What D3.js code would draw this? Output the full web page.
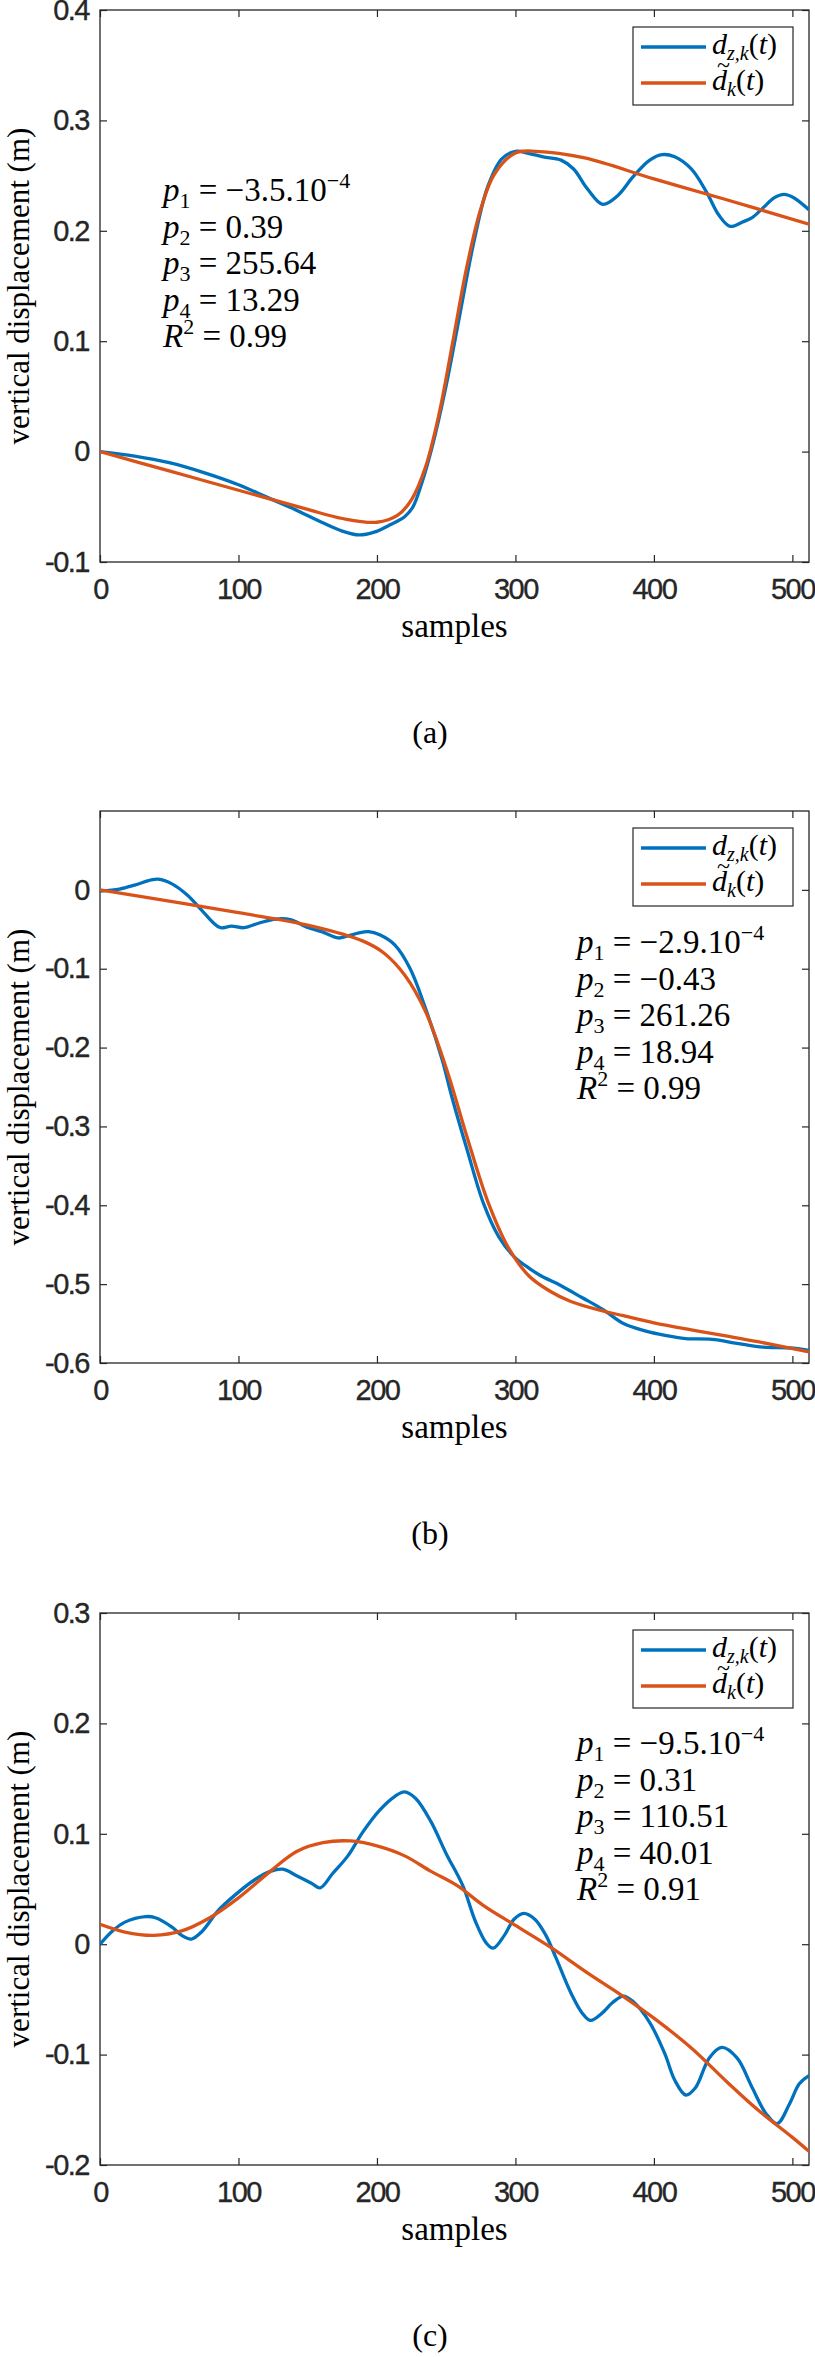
<!DOCTYPE html>
<html>
<head>
<meta charset="utf-8">
<script src="https://cdn.jsdelivr.net/npm/d3@7"></script>
<style>
	html, body { margin: 0; padding: 0; background: #fff; }
	svg { display: block; }
	.tick text { font-family: "Liberation Sans", Arial, sans-serif; font-size: 29px; fill: #262626; stroke: #262626; stroke-width: 0.35; letter-spacing: -1.5px; }
	.math { font-family: "Liberation Serif", "Times New Roman", serif; fill: #000; }
</style>
</head>
<body>
<div id="chart"></div>
<script>
// x ticks shared by all panels
const xTicks = [0, 100, 200, 300, 400, 500];

// panel (a)
const yTicksA = [-0.1, 0, 0.1, 0.2, 0.3, 0.4];
const dzSampA = [0, 25, 50, 75, 100, 120, 140, 160, 175, 187, 198, 210, 220, 226, 232, 240, 250, 260, 270, 280, 290, 300, 310, 320, 333, 342, 352, 363, 374, 385, 397, 406, 415, 427, 438, 447, 455, 464, 471, 479, 487, 494, 501, 512];
const dzA = [0, -0.004, -0.010, -0.019, -0.030, -0.041, -0.052, -0.064, -0.072, -0.0755, -0.073, -0.066, -0.059, -0.050, -0.030, 0.005, 0.060, 0.125, 0.190, 0.240, 0.265, 0.272, 0.270, 0.267, 0.264, 0.256, 0.238, 0.224, 0.232, 0.249, 0.264, 0.269, 0.267, 0.256, 0.235, 0.214, 0.204, 0.208, 0.212, 0.221, 0.230, 0.233, 0.230, 0.219];
const fitSampA = [0, 50, 100, 150, 175, 200, 215, 225, 235, 245, 255, 265, 275, 285, 300, 315, 350, 400, 450, 512];
const fitA = [0, -0.0175, -0.035, -0.0524, -0.0606, -0.064, -0.0576, -0.0434, -0.0142, 0.035, 0.101, 0.168, 0.220, 0.2517, 0.2705, 0.272, 0.266, 0.247, 0.229, 0.206];
const paramsA = ["−3.5.10", "0.39", "255.64", "13.29"];
const r2A = "0.99";

// panel (b)
const yTicksB = [-0.6, -0.5, -0.4, -0.3, -0.2, -0.1, 0];
const dzSampB = [0, 14, 25, 37, 42, 52, 63, 74, 82, 87, 95, 104, 115, 127, 138, 149, 160, 172, 179, 187, 194, 202, 213, 224, 235, 247, 254, 265, 277, 288, 299, 310, 318, 333, 348, 363, 378, 393, 408, 423, 442, 460, 479, 498, 512];
const dzB = [-0.0015, 0.001, 0.006, 0.0126, 0.0136, 0.0076, -0.0066, -0.027, -0.042, -0.048, -0.046, -0.048, -0.042, -0.037, -0.038, -0.047, -0.053, -0.061, -0.0585, -0.0545, -0.053, -0.057, -0.070, -0.100, -0.150, -0.215, -0.262, -0.329, -0.398, -0.440, -0.465, -0.480, -0.489, -0.502, -0.517, -0.532, -0.550, -0.559, -0.565, -0.569, -0.570, -0.575, -0.580, -0.581, -0.584];
const fitSampB = [0, 100, 153, 190, 205, 220, 235, 250, 265, 280, 295, 310, 325, 340, 363, 378, 400, 427, 453, 475, 512];
const fitB = [0, -0.029, -0.046, -0.065, -0.080, -0.108, -0.154, -0.226, -0.313, -0.395, -0.454, -0.490, -0.509, -0.522, -0.534, -0.540, -0.549, -0.558, -0.566, -0.573, -0.586];
const paramsB = ["−2.9.10", "−0.43", "261.26", "18.94"];
const r2B = "0.99";

// panel (c)
const yTicksC = [-0.2, -0.1, 0, 0.1, 0.2, 0.3];
const dzSampC = [0, 9, 18, 33, 40, 52, 59, 66, 74, 85, 97, 112, 123, 132, 142, 153, 159, 168, 179, 190, 202, 213, 220, 228, 239, 250, 262, 271, 279, 284, 292, 299, 306, 314, 322, 329, 340, 348, 354, 363, 370, 378, 385, 397, 408, 415, 423, 430, 440, 449, 460, 471, 481, 489, 498, 505, 512];
const dzC = [0, 0.012, 0.020, 0.025, 0.024, 0.0155, 0.008, 0.0047, 0.012, 0.030, 0.044, 0.0586, 0.066, 0.068, 0.062, 0.055, 0.051, 0.064, 0.080, 0.102, 0.1215, 0.134, 0.138, 0.132, 0.111, 0.082, 0.053, 0.021, 0.001, -0.0036, 0.008, 0.0226, 0.028, 0.0226, 0.008, -0.0115, -0.044, -0.062, -0.069, -0.062, -0.053, -0.047, -0.052, -0.071, -0.0996, -0.123, -0.1366, -0.130, -0.103, -0.0935, -0.103, -0.130, -0.1535, -0.1625, -0.1445, -0.1265, -0.119];
const fitSampC = [0, 18, 39, 59, 78, 100, 123, 142, 161, 181, 200, 220, 239, 258, 277, 300, 325, 352, 378, 400, 427, 453, 475, 500, 512];
const fitC = [0.018, 0.011, 0.008, 0.012, 0.023, 0.042, 0.066, 0.084, 0.092, 0.0935, 0.089, 0.080, 0.066, 0.053, 0.035, 0.017, -0.0025, -0.026, -0.0475, -0.067, -0.094, -0.125, -0.150, -0.175, -0.1876];
const paramsC = ["−9.5.10", "0.31", "110.51", "40.01"];
const r2C = "0.91";

const panelLabels = ["(a)", "(b)", "(c)"];

const BLUE = "#0072BD";
const ORANGE = "#D95319";
const AXIS = "#262626";

const W = 815, H = 2357;
const LEFT = 100, RIGHT = 809, PH = 552;

const zip = (xs, ys) => xs.map((x, i) => [x, ys[i]]);

const panels = [
	{ top: 10, yDomain: [-0.1, 0.4], yTicks: yTicksA, dz: zip(dzSampA, dzA), fit: zip(fitSampA, fitA), params: paramsA, r2: r2A, annX: 163, annY: 191 },
	{ top: 811, yDomain: [-0.6, 0.1], yTicks: yTicksB, dz: zip(dzSampB, dzB), fit: zip(fitSampB, fitB), params: paramsB, r2: r2B, annX: 577, annY: 142 },
	{ top: 1613, yDomain: [-0.2, 0.3], yTicks: yTicksC, dz: zip(dzSampC, dzC), fit: zip(fitSampC, fitC), params: paramsC, r2: r2C, annX: 577, annY: 141 },
];

const svg = d3.select("#chart")
	.append("svg")
	.attr("width", W)
	.attr("height", H)
	.attr("viewBox", `0 0 ${W} ${H}`);

svg.append("rect").attr("width", W).attr("height", H).attr("fill", "#fff");

// write a line of math-ish text with sub/superscripts
function mathText(g, x, y, parts, size) {
	const t = g.append("text")
		.attr("class", "math")
		.attr("x", x)
		.attr("y", y)
		.attr("font-size", size);
	let shift = 0;
	parts.forEach((p) => {
		const s = p.shift || 0;
		t.append("tspan")
			.attr("dy", s - shift)
			.attr("font-style", p.it ? "italic" : "normal")
			.attr("font-size", p.small ? Math.round(size * 0.68) : size)
			.text(p.t);
		shift = s;
	});
	return t;
}

panels.forEach((cfg, i) => {
	const bottom = cfg.top + PH;
	const x = d3.scaleLinear().domain([0, 512]).range([LEFT, RIGHT]);
	const y = d3.scaleLinear().domain(cfg.yDomain).range([bottom, cfg.top]);

	const g = svg.append("g").attr("class", "panel");
	const fmt = (d) => (Math.abs(d) < 1e-9 ? "0" : d.toFixed(1));

	// clip for curves
	g.append("clipPath")
		.attr("id", `clip${i}`)
		.append("rect")
		.attr("x", LEFT)
		.attr("y", cfg.top)
		.attr("width", RIGHT - LEFT)
		.attr("height", PH);

	// axes (ticks inward, mirrored on top/right)
	const axes = g.append("g").attr("class", "axis-group");
	axes.append("g")
		.attr("transform", `translate(0, ${bottom})`)
		.call(d3.axisBottom(x).tickValues(xTicks).tickSize(-7).tickPadding(16).tickFormat(d3.format("d")));
	axes.append("g")
		.attr("transform", `translate(${LEFT}, 0)`)
		.call(d3.axisLeft(y).tickValues(cfg.yTicks).tickSize(-7).tickPadding(11).tickFormat(fmt));
	axes.append("g")
		.attr("transform", `translate(0, ${cfg.top})`)
		.call(d3.axisTop(x).tickValues(xTicks).tickSize(-7).tickFormat(""));
	axes.append("g")
		.attr("transform", `translate(${RIGHT}, 0)`)
		.call(d3.axisRight(y).tickValues(cfg.yTicks).tickSize(-7).tickFormat(""));
	axes.selectAll(".domain").remove();
	axes.selectAll(".tick line").attr("stroke", AXIS).attr("stroke-width", 1.2);

	g.append("rect")
		.attr("x", LEFT)
		.attr("y", cfg.top)
		.attr("width", RIGHT - LEFT)
		.attr("height", PH)
		.attr("fill", "none")
		.attr("stroke", AXIS)
		.attr("stroke-width", 1.3);

	// curves
	const line = d3.line()
		.x(([s]) => x(s))
		.y(([_, v]) => y(v))
		.curve(d3.curveCatmullRom.alpha(0.5));

	const curves = g.append("g").attr("clip-path", `url(#clip${i})`);
	curves.append("path")
		.datum(cfg.dz)
		.attr("d", line)
		.attr("fill", "none")
		.attr("stroke", BLUE)
		.attr("stroke-width", 3.3);
	curves.append("path")
		.datum(cfg.fit)
		.attr("d", line)
		.attr("fill", "none")
		.attr("stroke", ORANGE)
		.attr("stroke-width", 3.3);

	// legend
	const lg = g.append("g").attr("transform", `translate(633, ${cfg.top + 17})`);
	lg.append("rect")
		.attr("width", 160)
		.attr("height", 78)
		.attr("fill", "#fff")
		.attr("stroke", AXIS)
		.attr("stroke-width", 1.2);
	[[BLUE, 20], [ORANGE, 56]].forEach(([c, ly]) => {
		lg.append("line")
			.attr("x1", 8).attr("x2", 73)
			.attr("y1", ly).attr("y2", ly)
			.attr("stroke", c)
			.attr("stroke-width", 3.3);
	});
	mathText(lg, 79, 27, [
		{ t: "d", it: true },
		{ t: "z,k", it: true, small: true, shift: 6 },
		{ t: "(" },
		{ t: "t", it: true },
		{ t: ")" },
	], 30);
	mathText(lg, 79, 63, [
		{ t: "d", it: true },
		{ t: "k", it: true, small: true, shift: 6 },
		{ t: "(" },
		{ t: "t", it: true },
		{ t: ")" },
	], 30);
	// tilde over the second d
	lg.append("text")
		.attr("class", "math")
		.attr("x", 84)
		.attr("y", 46)
		.attr("font-size", 24)
		.text("~");

	// fitted parameters
	const ann = g.append("g");
	const ax = cfg.annX, ay = cfg.top + cfg.annY;
	cfg.params.forEach((p, k) => {
		const parts = [
			{ t: "p", it: true },
			{ t: String(k + 1), small: true, shift: 7 },
			{ t: " = " + p },
		];
		if (k === 0) parts.push({ t: "−4", small: true, shift: -13 });
		mathText(ann, ax, ay + k * 36.5, parts, 33);
	});
	mathText(ann, ax, ay + 4 * 36.5, [
		{ t: "R", it: true },
		{ t: "2", small: true, shift: -13 },
		{ t: " = " + cfg.r2 },
	], 33);

	// axis labels
	g.append("text")
		.attr("class", "math")
		.attr("font-size", 31)
		.attr("text-anchor", "middle")
		.attr("transform", `translate(29, ${(cfg.top + bottom) / 2}) rotate(-90)`)
		.text("vertical displacement (m)");
	g.append("text")
		.attr("class", "math")
		.attr("font-size", 33)
		.attr("text-anchor", "middle")
		.attr("x", (LEFT + RIGHT) / 2)
		.attr("y", bottom + 75)
		.text("samples");

	g.append("text")
		.attr("class", "math")
		.attr("font-size", 32)
		.attr("text-anchor", "middle")
		.attr("x", 430)
		.attr("y", bottom + 181)
		.text(panelLabels[i]);
});
</script>
</body>
</html>
